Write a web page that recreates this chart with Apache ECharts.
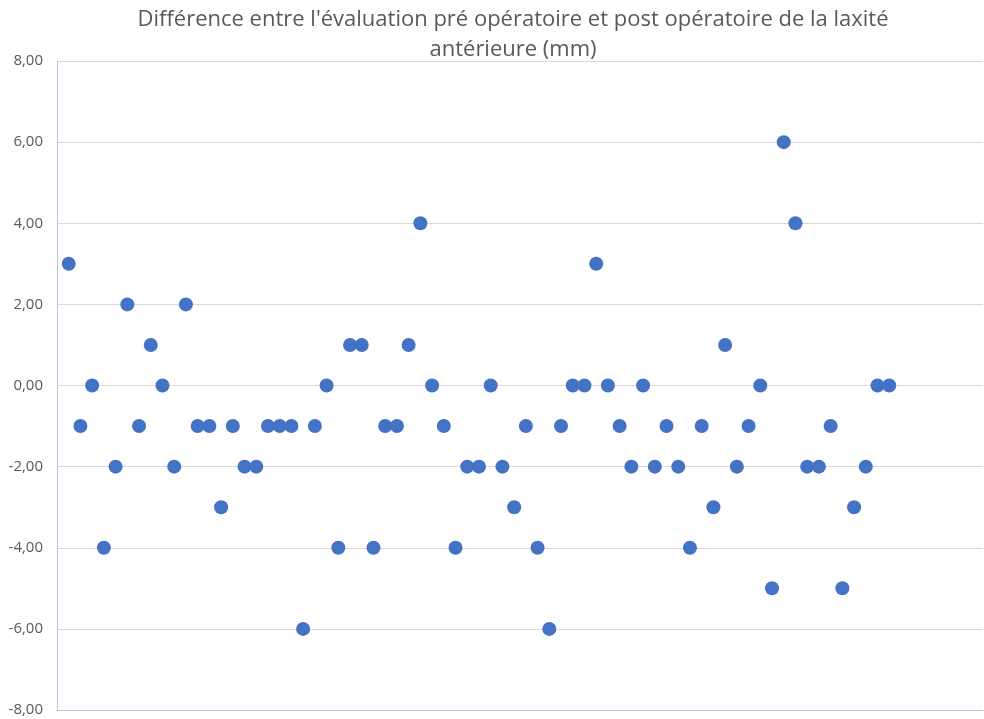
<!DOCTYPE html>
<html>
<head>
<meta charset="utf-8">
<script src="https://cdn.jsdelivr.net/npm/echarts@6/dist/echarts.min.js"></script>
<style>
  html, body { margin: 0; padding: 0; background: #fff; }
  #chart { width: 984px; height: 719px; }
</style>
</head>
<body>
<div id="chart"></div>
<script>
// difference pre / post op for each patient (mm), in order
const patients = [];
for (let i = 1; i <= 71; i++) patients.push(i);
const differences = [
  3, -1, 0, -4, -2, 2, -1, 1, 0, -2,
  2, -1, -1, -3, -1, -2, -2, -1, -1, -1,
  -6, -1, 0, -4, 1, 1, -4, -1, -1, 1,
  4, 0, -1, -4, -2, -2, 0, -2, -3, -1,
  -4, -6, -1, 0, 0, 3, 0, -1, -2, 0,
  -2, -1, -2, -4, -1, -3, 1, -2, -1, 0,
  -5, 6, 4, -2, -2, -1, -5, -3, -2, 0,
  0
];
const yTicks = [-8, -6, -4, -2, 0, 2, 4, 6, 8];

const points = patients.map((p, i) => [p, differences[i]]);

const chart = echarts.init(document.getElementById('chart'));
chart.setOption({
  animation: false,
  title: {
    text: "Différence entre l'évaluation pré opératoire et post opératoire de la laxité\nantérieure (mm)",
    left: 508,
    top: 0,
    textAlign: 'center',
    textStyle: {
      fontFamily: 'Open Sans',
      fontSize: 22,
      fontWeight: 'normal',
      color: '#595959',
      lineHeight: 30
    }
  },
  grid: {
    left: 57,
    right: 1,
    top: 61,
    bottom: 9
  },
  xAxis: {
    type: 'value',
    min: 0,
    max: 79,
    axisLine: { show: true, onZero: false, lineStyle: { color: '#b4c7e7' } },
    axisTick: { show: false },
    axisLabel: { show: false },
    splitLine: { show: false }
  },
  yAxis: {
    type: 'value',
    min: yTicks[0],
    max: yTicks[yTicks.length - 1],
    interval: 2,
    axisLine: { show: true, lineStyle: { color: '#b4c7e7', width: 1 } },
    axisTick: { show: false },
    axisLabel: {
      margin: 14,
      fontFamily: 'Open Sans',
      fontSize: 15,
      color: '#595959',
      formatter: v => v.toFixed(2).replace('.', ',')
    },
    splitLine: { lineStyle: { color: '#d9d9d9', width: 1 } }
  },
  series: [{
    type: 'scatter',
    data: points,
    symbolSize: 14,
    itemStyle: { color: '#4472c4', opacity: 1 }
  }]
});
</script>
</body>
</html>
